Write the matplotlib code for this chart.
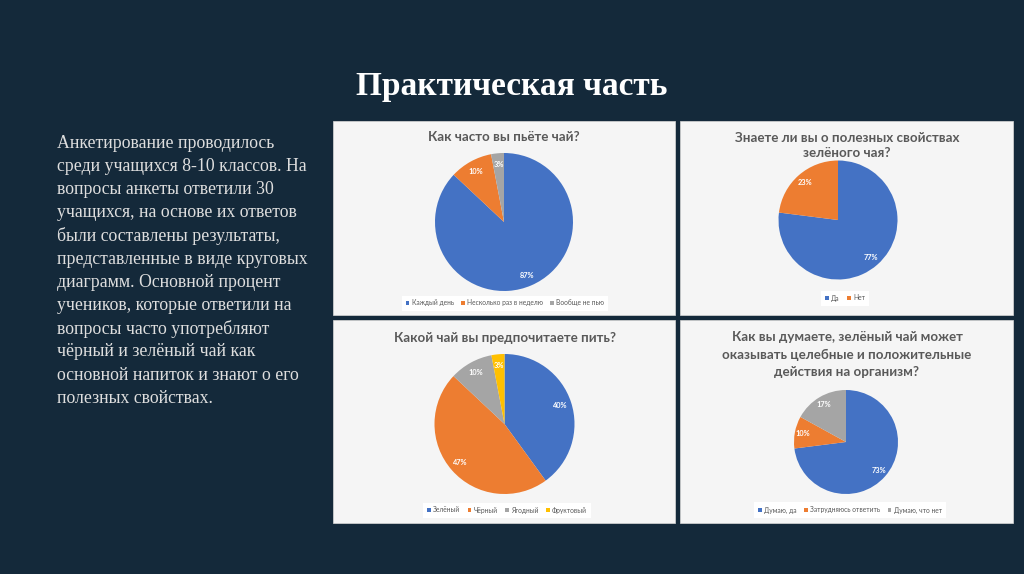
import matplotlib
matplotlib.use("Agg")
import matplotlib.pyplot as plt
from matplotlib.patches import Rectangle

W, H = 1024, 574
BG = "#14293a"
BOX = "#f5f5f5"
TXT = "#595959"
COLORS = ["#4472C4", "#ED7D31", "#A5A5A5", "#FFC000"]

slide_title = "Практическая часть"
paragraph = [
    "Анкетирование проводилось",
    "среди учащихся 8-10 классов. На",
    "вопросы анкеты ответили 30",
    "учащихся, на основе их ответов",
    "были составлены результаты,",
    "представленные в виде круговых",
    "диаграмм. Основной процент",
    "учеников, которые ответили на",
    "вопросы часто употребляют",
    "чёрный и зелёный чай как",
    "основной напиток и знают о его",
    "полезных свойствах.",
]

q1_title = ["Как часто вы пьёте чай?"]
q1_labels = ["Каждый день", "Несколько раз в неделю", "Вообще не пью"]
q1_values = [87, 10, 3]

q2_title = ["Знаете ли вы о полезных свойствах", "зелёного чая?"]
q2_labels = ["Да", "Нет"]
q2_values = [77, 23]

q3_title = ["Какой чай вы предпочитаете пить?"]
q3_labels = ["Зелёный", "Чёрный", "Ягодный", "Фруктовый"]
q3_values = [40, 47, 10, 3]

q4_title = ["Как вы думаете, зелёный чай может",
            "оказывать целебные и положительные",
            "действия на организм?"]
q4_labels = ["Думаю, да", "Затрудняюсь ответить", "Думаю, что нет"]
q4_values = [73, 10, 17]

SANS = ["Lato", "Open Sans", "DejaVu Sans"]
SERIF = ["Liberation Serif", "DejaVu Serif"]

fig = plt.figure(figsize=(W / 100, H / 100), dpi=100, facecolor=BG)


def fx(x):
    return x / W


def fy(y):
    return 1 - y / H


# slide title
fig.text(fx(512), fy(86), slide_title, ha="center", va="center",
         color="white", fontsize=24, fontweight="bold", family=SERIF)

# paragraph
for i, line in enumerate(paragraph):
    fig.text(fx(57), fy(143 + i * 23.2), line, ha="left", va="center",
             color="#dedede", fontsize=12.8, family=SERIF)

# chart boxes
boxes = [(333, 121, 675, 315), (680, 121, 1013, 315),
         (333, 320, 675, 523), (680, 320, 1013, 523)]
for x0, y0, x1, y1 in boxes:
    fig.patches.append(Rectangle((fx(x0), fy(y1)), fx(x1 - x0), (y1 - y0) / H,
                                 transform=fig.transFigure, facecolor=BOX,
                                 edgecolor="#d9d9d9", linewidth=0.5, zorder=-10))

charts = [
    dict(title=q1_title, labels=q1_labels, values=q1_values,
         c=(504, 222), r=69, ty=[137], tx=504, ly=303, lx=505),
    dict(title=q2_title, labels=q2_labels, values=q2_values,
         c=(838, 220), r=59.5, ty=[138, 153], tx=847, ly=298, lx=845),
    dict(title=q3_title, labels=q3_labels, values=q3_values,
         c=(504.5, 424), r=70, ty=[338], tx=504.5, ly=510, lx=507),
    dict(title=q4_title, labels=q4_labels, values=q4_values,
         c=(846, 442), r=52, ty=[337, 354.5, 372], tx=847, ly=510, lx=850),
]

for ch in charts:
    cx, cy = ch["c"]
    r = ch["r"]
    ax = fig.add_axes([fx(cx - r), fy(cy + r), 2 * r / W, 2 * r / H])
    ax.set_zorder(5)
    ax.patch.set_visible(False)
    wedges, _, autotexts = ax.pie(
        ch["values"], colors=COLORS[:len(ch["values"])], startangle=90,
        counterclock=False, autopct="%.0f%%", pctdistance=0.84,
        textprops=dict(color="white", fontsize=5.3, fontweight="bold", family=SANS),
        wedgeprops=dict(linewidth=0))
    ax.set_xlim(-1, 1)
    ax.set_ylim(-1, 1)
    ax.set_aspect("equal")
    ax.axis("off")
    for line, y in zip(ch["title"], ch["ty"]):
        fig.text(fx(ch["tx"]), fy(y), line, ha="center", va="center",
                 color=TXT, fontsize=9.6, fontweight="bold", family=SANS)
    leg = ax.legend(wedges, ch["labels"], loc="center",
                    bbox_to_anchor=(fx(ch["lx"]), fy(ch["ly"])),
                    bbox_transform=fig.transFigure, ncol=len(ch["labels"]),
                    frameon=True, facecolor="white", edgecolor="none",
                    framealpha=1, fancybox=False,
                    prop=dict(size=4.8, family=SANS),
                    handlelength=0.55, handleheight=0.55, handletextpad=0.35,
                    columnspacing=1.1, borderpad=0.6)
    for t in leg.get_texts():
        t.set_color(TXT)

fig.savefig("out.png", dpi=100, facecolor=BG)
